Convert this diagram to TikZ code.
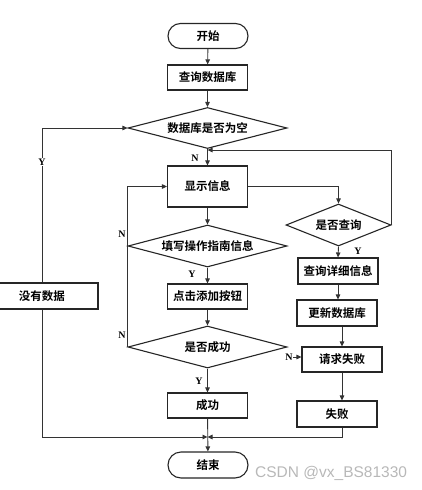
\documentclass[tikz,border=0pt]{standalone}
\usepackage{fontspec}
\setmainfont{Liberation Serif}
\newfontfamily\cjk{Noto Sans CJK SC}[BoldFont={Noto Sans CJK SC Bold}]
\newfontfamily\wm{Liberation Sans}
\usetikzlibrary{shapes.geometric,arrows.meta}
\begin{document}
\begin{tikzpicture}[x=1pt,y=-1pt,
  base/.style={draw=black!85,line width=1.1pt,fill=white,inner sep=0pt,font=\cjk\bfseries\fontsize{11.5}{13}\selectfont},
  box/.style={base,rectangle,minimum width=#1,minimum height=25pt},
  box/.default=80pt,
  term/.style={base,rectangle,rounded corners=12.5pt,minimum width=80pt,minimum height=25pt},
  dec/.style={base,diamond,aspect=3.8,minimum width=159pt,minimum height=41pt},
  conn/.style={draw=black!80,line width=0.9pt,-{Triangle[length=5pt,width=4.5pt]}},
  plain/.style={draw=black!80,line width=0.9pt},
  lbl/.style={font=\bfseries\fontsize{10}{12}\selectfont,inner sep=1pt}
]
\useasboundingbox (0,0) rectangle (421,490);
% main column
\node[term] (start) at (208,36) {开始};
\node[box] (q1) at (207.5,77.5) {查询数据库};
\node[dec] (d1) at (207.5,128) {数据库是否为空};
\node[box,minimum height=41pt] (show) at (207.5,186.5) {显示信息};
\node[dec,minimum height=42pt] (d2) at (207.5,246) {填写操作指南信息};
\node[box] (click) at (207.5,296.5) {点击添加按钮};
\node[dec,minimum height=42pt] (d3) at (207.5,347) {是否成功};
\node[box] (succ) at (207.5,405.5) {成功};
\node[term,minimum height=26pt,rounded corners=13pt] (end) at (208,465) {结束};
% left
\node[box=112pt,minimum height=26pt] (nodata) at (42,296) {没有数据};
% right column
\node[base,diamond,aspect=2.5,minimum width=105pt,minimum height=42pt] (d4) at (338.5,225) {是否查询};
\node[box,minimum height=26pt] (detail) at (338,271) {查询详细信息};
\node[box,minimum height=26pt] (upd) at (337,313) {更新数据库};
\node[box] (fail1) at (342,359.5) {请求失败};
\node[box,minimum height=26pt] (fail2) at (337,414) {失败};
% coordinates
\coordinate (j1) at (207.5,150);
\coordinate (j2) at (207.5,437);
\coordinate (nst) at (293,357);
% connectors
\draw[conn] (start) -- (q1);
\draw[conn] (q1) -- (d1);
\draw[conn] (d1) -- (show);
\node[lbl] at (195,158) {N};
\draw[conn] (d4.east) |- (j1);
\draw[conn] (show.east) -| (d4.north);
\draw[conn] (show) -- (d2);
\draw[conn] (d2) -- (click);
\node[lbl] at (192,274) {Y};
\draw[conn] (click) -- (d3);
\draw[conn] (d3) -- (succ);
\node[lbl] at (199,381) {Y};
\draw[conn] (succ) -- (end);
\draw[conn] (d3.west) |- (show.west);
\node[lbl] at (122,234) {N};
\node[lbl] at (122,335) {N};
% left loop
\draw[conn] (nodata.north) |- (d1.west);
\node[lbl,fill=white] at (42,162) {Y};
\draw[conn] (nodata.south) |- (j2);
% right column connectors
\draw[conn] (d4.south) -- (detail.north);
\node[lbl] at (358,251) {Y};
\draw[conn] (detail.south) -- (detail.south |- upd.north);
\draw[conn] (upd.south -| fail1.north) -- (fail1.north);
\draw[conn] (fail1.south) -- (fail1.south |- fail2.north);
\draw[conn] (fail2.south -| fail1.south) |- (j2);
\draw[conn] (nst) -- (nst -| fail1.west);
\node[lbl] at (289,357) {N};
% watermark
\node[font=\wm\fontsize{15.5}{17}\selectfont,text=black!28,anchor=west,inner sep=0pt] (wmk) at (255,473) {CSDN @vx\_BS81330};
\end{tikzpicture}
\end{document}
